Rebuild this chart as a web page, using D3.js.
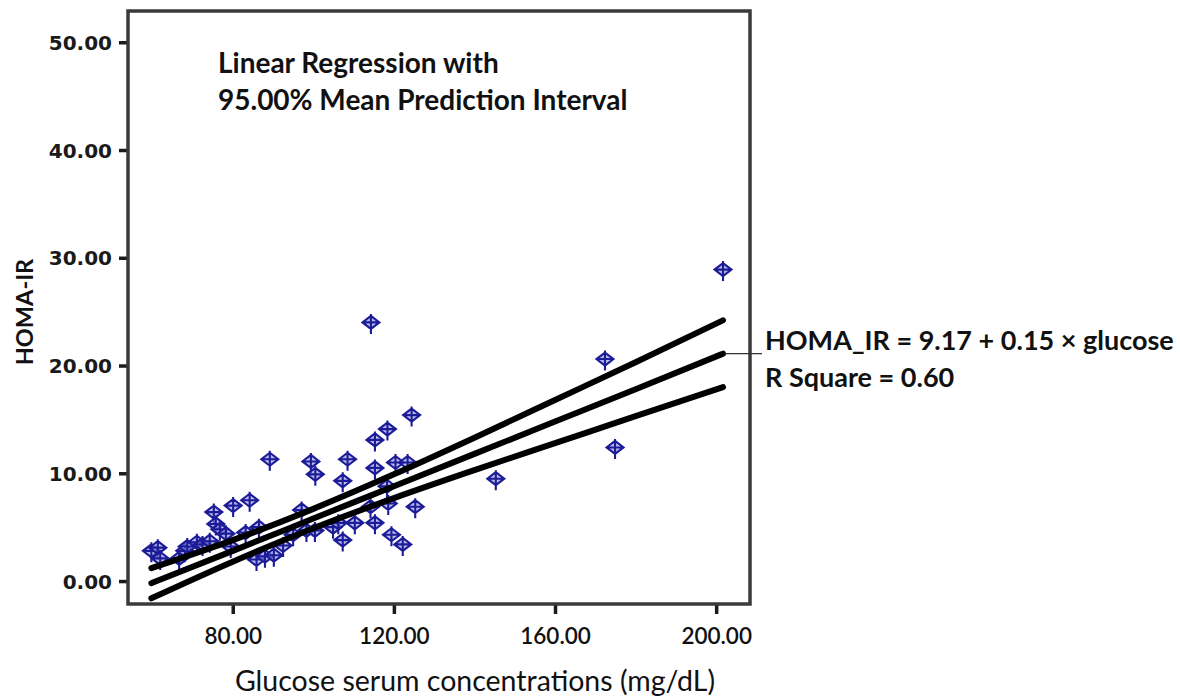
<!DOCTYPE html>
<html>
<head>
<meta charset="utf-8">
<script src="https://cdn.jsdelivr.net/npm/d3@7"></script>
<style>
  body { margin: 0; background: #fff; }
  .cal { font-family: Lato, "Open Sans", sans-serif; }
</style>
</head>
<body>
<script>
// observed cases
var glucose = [59.8, 61.4, 62.0, 66.7, 68.1, 68.7, 71.1, 72.5, 74.3, 75.3, 75.8, 76.8, 78.3, 79.5, 80.1,
  83.2, 84.2, 85.9, 86.5, 88.0, 89.2, 90.2, 92.5, 95.0, 97.1, 98.3, 99.4, 100.4, 100.5, 104.9,
  106.2, 107.3, 107.3, 108.5, 110.3, 114.2, 114.3, 115.3, 115.3, 115.3, 118.3, 118.4, 118.6, 119.4,
  120.4, 122.2, 123.4, 124.4, 125.3, 145.3, 172.4, 174.9, 201.7];
var homa = [2.8, 3.1, 2.1, 2.1, 2.8, 3.2, 3.6, 3.4, 3.7, 6.4, 5.3, 4.8, 4.4, 3.2, 7.0,
  4.5, 7.5, 2.0, 5.0, 2.3, 11.3, 2.4, 3.3, 4.3, 6.6, 4.7, 11.1, 4.7, 9.9, 5.0,
  5.4, 3.8, 9.3, 11.3, 5.4, 6.9, 24.0, 13.1, 10.5, 5.4, 8.8, 14.1, 7.2, 4.3,
  11.0, 3.4, 11.0, 15.4, 6.9, 9.5, 20.6, 12.4, 28.9];

// fit line and 95% mean interval
var fitGlucose = [59.8, 80, 100, 120, 140, 160, 180, 201.7];
var fitMid = [-0.2, 2.8, 5.8, 8.8, 11.8, 14.8, 17.8, 21.1];
var fitLow = [-1.6, 1.8, 4.9, 7.7, 10.3, 12.8, 15.3, 18.0];
var fitHigh = [1.2, 3.8, 6.7, 9.9, 13.3, 16.8, 20.3, 24.2];

var xTicks = [80, 120, 160, 200];
var yTicks = [0, 10, 20, 30, 40, 50];
var titleLines = ["Linear Regression with", "95.00% Mean Prediction Interval"];
var fitLabel = ["HOMA_IR = 9.17 + 0.15 \u00d7 glucose", "R Square = 0.60"];

var svg = d3.select("body").append("svg").attr("width", 1180).attr("height", 696);

var plotL = 128, plotR = 750, plotT = 11, plotB = 604;
var x = d3.scaleLinear().domain([54, 208.4]).range([plotL, plotR]);
var y = d3.scaleLinear().domain([-2.13, 52.9]).range([plotB, plotT]);

// axes
var yAxis = d3.axisLeft(y).tickValues(yTicks).tickSize(9).tickFormat(d3.format(".2f"));
var gy = svg.append("g").attr("transform", "translate(" + plotL + ",0)").call(yAxis);
gy.select(".domain").remove();
gy.selectAll("line").attr("stroke", "#1a1a1a").attr("stroke-width", 3.5);
gy.selectAll("text").attr("x", -16).attr("dy", "0.36em")
  .style("font-family", "'DejaVu Sans', Verdana, sans-serif").style("font-weight", "bold")
  .style("font-size", "20px").attr("fill", "#1a1a1a");

var xAxis = d3.axisBottom(x).tickValues(xTicks).tickSize(10).tickFormat(d3.format(".2f"));
var gx = svg.append("g").attr("transform", "translate(0," + plotB + ")").call(xAxis);
gx.select(".domain").remove();
gx.selectAll("line").attr("stroke", "#1a1a1a").attr("stroke-width", 3.5);
gx.selectAll("text").attr("y", 32).attr("dy", "0.36em").attr("class", "cal")
  .style("font-size", "22.5px").style("font-weight", "600").attr("fill", "#111");

// frame
svg.append("rect").attr("x", plotL).attr("y", plotT)
  .attr("width", plotR - plotL).attr("height", plotB - plotT)
  .attr("fill", "none").attr("stroke", "#3a3a3a").attr("stroke-width", 3.5);

// points
var marker = "M0,-6.5L8.5,0L0,6.5L-8.5,0Z M-8.5,0H8.5 M0,-8.5V11.5";
svg.append("g").selectAll("path")
  .data(glucose.map(function(g, i) { return [g, homa[i]]; }))
  .enter().append("path")
  .attr("d", marker)
  .attr("transform", function(d) { return "translate(" + x(d[0]) + "," + y(d[1]) + ")"; })
  .attr("fill", "rgba(140,140,225,0.6)")
  .attr("stroke", "#1c1c98")
  .attr("stroke-width", 2.1);

// fit lines
var line = d3.line().curve(d3.curveMonotoneX);
[fitLow, fitMid, fitHigh].forEach(function(arr) {
  svg.append("path")
    .attr("d", line(fitGlucose.map(function(g, i) { return [x(g), y(arr[i])]; })))
    .attr("fill", "none").attr("stroke", "#000").attr("stroke-width", 6)
    .attr("stroke-linecap", "round");
});

// leader to label
var lastG = fitGlucose[fitGlucose.length - 1], lastM = fitMid[fitMid.length - 1];
svg.append("line").attr("x1", x(lastG) + 2).attr("x2", 762)
  .attr("y1", y(lastM)).attr("y2", y(lastM))
  .attr("stroke", "#333").attr("stroke-width", 1.2);

svg.selectAll(".fitlab").data(fitLabel).enter().append("text")
  .attr("class", "cal").attr("x", 765).attr("y", function(d, i) { return 350 + i * 37; })
  .style("font-size", "27px").style("font-weight", "bold").attr("fill", "#111")
  .text(function(d) { return d; });

// title
svg.selectAll(".ttl").data(titleLines).enter().append("text")
  .attr("class", "cal").attr("x", 218).attr("y", function(d, i) { return 73 + i * 37; })
  .style("font-size", "28px").style("font-weight", "bold").attr("fill", "#111")
  .text(function(d) { return d; });

// axis titles
svg.append("text").attr("class", "cal")
  .attr("transform", "translate(33,312) rotate(-90)").attr("text-anchor", "middle")
  .style("font-size", "23.5px").style("font-weight", "bold").attr("fill", "#111")
  .text("HOMA-IR");

svg.append("text").attr("class", "cal")
  .attr("x", 475).attr("y", 691).attr("text-anchor", "middle")
  .style("font-size", "28.5px").attr("fill", "#111")
  .text("Glucose serum concentrations (mg/dL)");
</script>
</body>
</html>
